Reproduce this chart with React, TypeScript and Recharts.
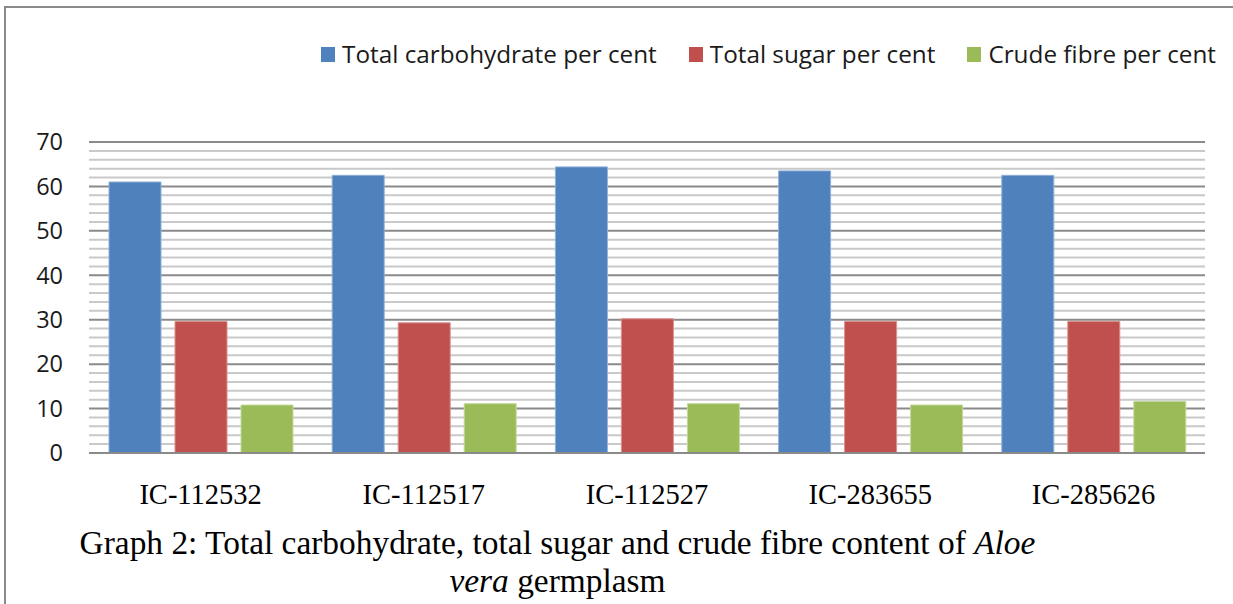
import React from 'react';
import { BarChart, Bar, XAxis, YAxis, CartesianGrid, Legend } from 'recharts';

const categories = ['IC-112532', 'IC-112517', 'IC-112527', 'IC-283655', 'IC-285626'];
const carbohydrate = [61.0, 62.5, 64.4, 63.5, 62.5];
const sugar = [29.6, 29.3, 30.2, 29.6, 29.6];
const fibre = [10.8, 11.1, 11.1, 10.8, 11.6];
const seriesNames = ['Total carbohydrate per cent', 'Total sugar per cent', 'Crude fibre per cent'];
const seriesColors = ['#4F81BD', '#C0504D', '#9BBB59'];
const seriesStrokes = ['#8eb0da', '#dc8f8d', '#c3d99a'];
const yDomain = [0, 70];
const yTicks = [0, 10, 20, 30, 40, 50, 60, 70];
const minorGrid = [2, 4, 6, 8, 12, 14, 16, 18, 22, 24, 26, 28, 32, 34, 36, 38, 42, 44, 46, 48, 52, 54, 56, 58, 62, 64, 66, 68];
const captionLine1 = 'Graph 2: Total carbohydrate, total sugar and crude fibre content of ';
const captionItalic1 = 'Aloe';
const captionItalic2 = 'vera';
const captionLine2 = ' germplasm';

const data = categories.map((name, i) => ({
  name,
  carb: carbohydrate[i],
  sugar: sugar[i],
  fibre: fibre[i],
}));

const minorGenerator = (args: any) => {
  const yAxis = args && args.yAxis;
  const s = yAxis && yAxis.scale;
  if (typeof s === 'function') {
    const r = minorGrid.map((v) => s(v));
    if (r.every((x) => typeof x === 'number' && isFinite(x))) return r;
  }
  if (s && typeof s === 'object' && typeof s.map === 'function') {
    const r = minorGrid.map((v) => s.map(v));
    if (r.every((x: any) => typeof x === 'number' && isFinite(x))) return r;
  }
  const off = args && args.offset;
  if (off && typeof off.top === 'number' && typeof off.height === 'number') {
    return minorGrid.map((v) => off.top + off.height * (1 - (v - yDomain[0]) / (yDomain[1] - yDomain[0])));
  }
  return [];
};

const LegendContent = () => (
  <div
    style={{
      display: 'flex',
      justifyContent: 'flex-end',
      alignItems: 'center',
      paddingRight: 17,
      gap: 32,
      height: 30,
      boxSizing: 'border-box',
      width: 1233,
    }}
  >
    {seriesNames.map((name, i) => (
      <div key={i} style={{ display: 'flex', alignItems: 'center' }}>
        <span style={{ display: 'inline-block', width: 14, height: 15, background: seriesColors[i], marginRight: 7 }} />
        <span
          style={{
            fontFamily: '"Open Sans", sans-serif',
            fontSize: 24.3,
            lineHeight: '30px',
            color: '#1a1a1a',
            whiteSpace: 'nowrap',
          }}
        >
          {name}
        </span>
      </div>
    ))}
  </div>
);

export default function App() {
  return (
    <div style={{ position: 'absolute', left: 0, top: 0, width: 1233, height: 604, background: '#fff', overflow: 'hidden' }}>
      <div
        style={{
          position: 'absolute',
          left: 4,
          top: 6,
          width: 1240,
          height: 620,
          borderTop: '2px solid #8a8a8a',
          borderLeft: '2px solid #8a8a8a',
        }}
      />
      <div style={{ position: 'absolute', left: 0, top: 0 }}>
        <BarChart
          width={1233}
          height={604}
          data={data}
          margin={{ top: 142, right: 28, bottom: 111, left: 0 }}
          barSize={52}
          barGap={14}
        >
          <CartesianGrid vertical={false} horizontalCoordinatesGenerator={minorGenerator} stroke="#c9c9c9" strokeWidth={2} />
          <CartesianGrid vertical={false} stroke="#8a8a8a" strokeWidth={2} />
          <XAxis
            dataKey="name"
            axisLine={{ stroke: '#8a8a8a', strokeWidth: 2 }}
            tickLine={false}
            tickSize={0}
            tickMargin={31}
            height={40}
            interval={0}
            tick={{ fontFamily: '"Liberation Serif", "Times New Roman", serif', fontSize: 28.5, fill: '#000' }}
          />
          <YAxis
            domain={yDomain}
            ticks={yTicks}
            interval={0}
            width={89}
            axisLine={false}
            tickLine={false}
            tickSize={0}
            tickMargin={26}
            tick={{ fontFamily: '"Open Sans", sans-serif', fontSize: 23.5, fill: '#1a1a1a' }}
          />
          <Legend
            layout="horizontal"
            verticalAlign="middle"
            align="center"
            content={<LegendContent />}
            wrapperStyle={{ top: 39, left: 0, width: 1233, height: 30 }}
          />
          <Bar dataKey="carb" name={seriesNames[0]} fill={seriesColors[0]} stroke={seriesStrokes[0]} strokeWidth={1} isAnimationActive={false} />
          <Bar dataKey="sugar" name={seriesNames[1]} fill={seriesColors[1]} stroke={seriesStrokes[1]} strokeWidth={1} isAnimationActive={false} />
          <Bar dataKey="fibre" name={seriesNames[2]} fill={seriesColors[2]} stroke={seriesStrokes[2]} strokeWidth={1} isAnimationActive={false} />
        </BarChart>
      </div>
      <div
        style={{
          position: 'absolute',
          left: 0,
          top: 524,
          width: 1115,
          textAlign: 'center',
          fontFamily: '"Liberation Serif", "Times New Roman", serif',
          fontSize: 33.4,
          lineHeight: '38px',
          color: '#000',
          whiteSpace: 'nowrap',
        }}
      >
        {captionLine1}
        <i>{captionItalic1}</i>
        <br />
        <i>{captionItalic2}</i>
        {captionLine2}
      </div>
    </div>
  );
}
